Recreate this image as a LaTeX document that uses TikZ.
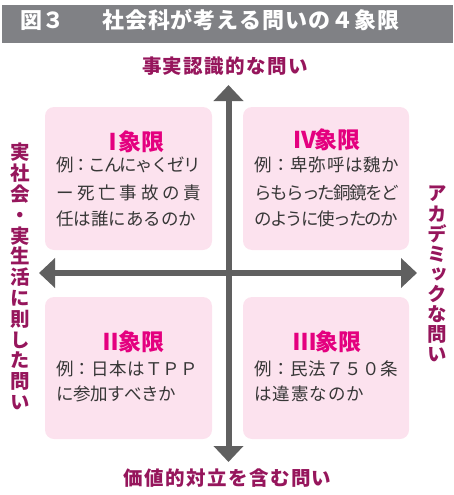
\documentclass[tikz,border=0pt]{standalone}
\usepackage{fontspec}
\setmainfont{Noto Sans CJK JP}
\newfontfamily\jp{Noto Sans CJK JP}
\newfontfamily\jpv[RawFeature=+vert]{Noto Sans CJK JP}
\usetikzlibrary{arrows.meta}
\definecolor{headgray}{RGB}{128,129,133}
\definecolor{labelmag}{RGB}{150,22,92}
\definecolor{titlemag}{RGB}{228,0,127}
\definecolor{boxpink}{RGB}{252,226,238}
\definecolor{axisgray}{RGB}{96,96,96}
\definecolor{bodytext}{RGB}{55,55,55}
\def\spfirst#1{#1\sprest}
\def\sprest#1{\ifx#1\relax\else\hskip0pt plus1fil minus1fil\relax #1\expandafter\sprest\fi}
\newcommand\spreadto[2]{\hbox to #1{\spfirst#2\relax}}
\begin{document}
\begin{tikzpicture}[x=1pt,y=-1pt,
  qbox/.style={fill=boxpink, rounded corners=9pt, inner sep=0pt, draw=none},
  qtitle/.style={inner sep=0pt, text=titlemag, font={\jp\bfseries\fontsize{23}{23}\selectfont}},
  qline/.style={inner sep=0pt, anchor=west, text=bodytext, text height=0.88em, text depth=0.12em, font={\jp\fontsize{17.5}{17.5}\selectfont}},
  axislabel/.style={inner sep=0pt, text=labelmag, text height=0.88em, text depth=0.12em, font={\jp\bfseries\fontsize{19.5}{19.5}\selectfont}},
  vlabel/.style={inner sep=0pt, text=labelmag, align=center, font={\jpv\bfseries\fontsize{19.5}{#1}\selectfont}},
  axis/.style={line width=6pt, draw=axisgray, {Triangle[length=16pt,width=29pt]}-{Triangle[length=16pt,width=29pt]}},
  headtext/.style={inner sep=0pt, anchor=west, text=white, text height=0.88em, text depth=0.12em, font={\jp\bfseries\fontsize{22}{22}\selectfont}}
]
\useasboundingbox (0,0) rectangle (453,495);
% header
\fill[headgray] (2,5) rectangle (453,43);
\node[headtext] (fig) at (20,25) {図３};
\node[headtext] (ttl) at (102,25) {\spreadto{297pt}{社会科が考える問いの４象限}};
% boxes
\fill[qbox] (45,107) rectangle (212,250);
\fill[qbox] (243,107) rectangle (409,250);
\fill[qbox] (45,297) rectangle (212,439);
\fill[qbox] (243,297) rectangle (409,439);
% axes
\coordinate (top) at (228.5,85);
\coordinate (bot) at (228.5,462);
\coordinate (lft) at (39,273);
\coordinate (rgt) at (417,273);
\draw[axis] (bot) -- (top);
\draw[axis] (lft) -- (rgt);
% axis labels
\node[axislabel] (ltop) at (225,70) {\spreadto{166pt}{事実認識的な問い}};
\node[axislabel] (lbot) at (227.5,482) {\spreadto{208pt}{価値的対立を含む問い}};
\node[vlabel=20.8] (lleft) at (20,276.5) {実\\社\\会\\・\\実\\生\\活\\に\\則\\し\\た\\問\\い};
\node[vlabel=20.06] (lright) at (437,274) {ア\\カ\\デ\\ミ\\ッ\\ク\\な\\問\\い};
% quadrant I
\node[qtitle] (t1) at (133,142) {Ⅰ\kern-6pt 象限};
\node[qline] (a1) at (56,168) {\spreadto{145pt}{例：こんにゃくゼリ}};
\node[qline] (a2) at (56,196) {\spreadto{145pt}{ー死亡事故の責}};
\node[qline] (a3) at (56,222) {\spreadto{140pt}{任は誰にあるのか}};
% quadrant IV
\node[qtitle] (t4) at (327,140) {Ⅳ\kern-2pt 象限};
\node[qline] (b1) at (254,168) {\spreadto{145pt}{例：卑弥呼は魏か}};
\node[qline] (b2) at (254,196) {\spreadto{145pt}{らもらった銅鏡をど}};
\node[qline] (b3) at (254,222) {\spreadto{144pt}{のように使ったのか}};
% quadrant II
\node[qtitle] (t2) at (132,342) {Ⅱ\kern-4pt 象限};
\node[qline] (c1) at (56,372) {\spreadto{142pt}{例：日本はＴＰＰ}};
\node[qline] (c2) at (56,397) {\spreadto{120pt}{に参加すべきか}};
% quadrant III
\node[qtitle] (t3) at (327,342) {Ⅲ\kern-1pt 象限};
\node[qline] (d1) at (254,372) {\spreadto{144pt}{例：民法７５０条}};
\node[qline] (d2) at (254,397) {\spreadto{110pt}{は違憲なのか}};
\end{tikzpicture}
\end{document}
